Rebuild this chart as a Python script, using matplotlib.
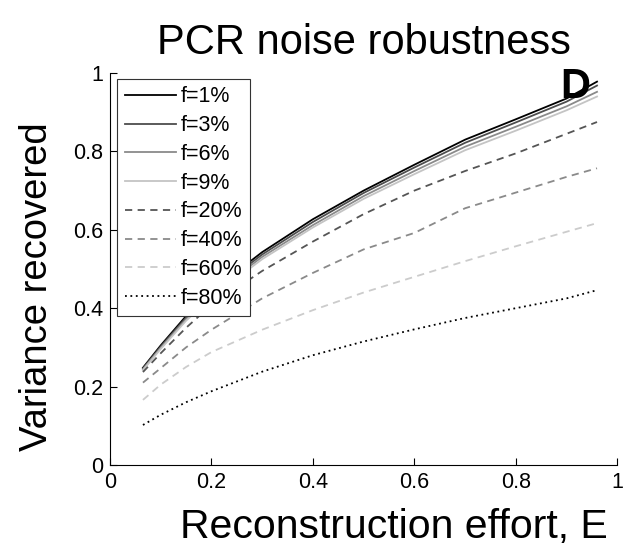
import matplotlib
matplotlib.use("Agg")
import matplotlib.pyplot as plt

E = [0.065, 0.1, 0.15, 0.2, 0.3, 0.4, 0.5, 0.6, 0.7, 0.8, 0.9, 0.96]

labels = ["f=1%", "f=3%", "f=6%", "f=9%", "f=20%", "f=40%", "f=60%", "f=80%"]

f1  = [0.248, 0.305, 0.380, 0.443, 0.543, 0.627, 0.700, 0.766, 0.830, 0.882, 0.935, 0.978]
f3  = [0.246, 0.302, 0.376, 0.438, 0.537, 0.620, 0.694, 0.759, 0.822, 0.874, 0.927, 0.968]
f6  = [0.244, 0.299, 0.372, 0.433, 0.531, 0.612, 0.686, 0.750, 0.812, 0.863, 0.915, 0.952]
f9  = [0.242, 0.296, 0.368, 0.428, 0.525, 0.606, 0.679, 0.742, 0.803, 0.853, 0.905, 0.940]
f20 = [0.237, 0.285, 0.350, 0.408, 0.495, 0.570, 0.640, 0.700, 0.750, 0.795, 0.845, 0.875]
f40 = [0.210, 0.247, 0.300, 0.345, 0.425, 0.490, 0.550, 0.592, 0.655, 0.695, 0.735, 0.757]
f60 = [0.166, 0.205, 0.250, 0.288, 0.345, 0.395, 0.440, 0.480, 0.520, 0.558, 0.595, 0.617]
f80 = [0.102, 0.128, 0.160, 0.188, 0.238, 0.280, 0.315, 0.346, 0.375, 0.400, 0.425, 0.446]

series = [f1, f3, f6, f9, f20, f40, f60, f80]
colors = ["#000000", "#4d4d4d", "#8a8a8a", "#c4c4c4", "#555555", "#8a8a8a", "#cccccc", "#000000"]
styles = ["-", "-", "-", "-", (0, (4, 3)), (0, (4, 3)), (0, (4, 3)), (0, (1, 2))]

plt.rcParams['font.family'] = ['Liberation Sans', 'DejaVu Sans']

fig = plt.figure(figsize=(6.31, 5.47), dpi=100)
ax = fig.add_axes([0.1743, 0.150, 0.804, 0.7165])

for y, c, ls, lab in zip(series, colors, styles, labels):
    ax.plot(E, y, color=c, linestyle=ls, linewidth=1.3, label=lab)

ax.set_xlim(0, 1)
ax.set_ylim(0, 1)
ax.set_xticks([0, 0.2, 0.4, 0.6, 0.8, 1])
ax.set_xticklabels(["0", "0.2", "0.4", "0.6", "0.8", "1"])
ax.set_yticks([0, 0.2, 0.4, 0.6, 0.8, 1])
ax.set_yticklabels(["0", "0.2", "0.4", "0.6", "0.8", "1"])
ax.tick_params(direction='in', length=5, labelsize=15.5, width=0.8, pad=5)
ax.spines['top'].set_visible(False)
ax.spines['right'].set_visible(False)

ax.set_title("PCR noise robustness", fontsize=30, pad=14)
ax.set_xlabel("Reconstruction effort, E", fontsize=29.5)
ax.xaxis.set_label_coords(0.56, -0.11)
ax.xaxis.label.set_va('top')
ax.set_ylabel("Variance recovered", fontsize=27.5)
ax.yaxis.set_label_coords(-0.108, 0.454)

leg = ax.legend(loc='upper left', bbox_to_anchor=(0.014, 0.985), fontsize=15.5,
                handlelength=2.4, handletextpad=0.2, labelspacing=0.36,
                borderpad=0.35, borderaxespad=0.0, fancybox=False, framealpha=1,
                edgecolor='#333333')
leg.get_frame().set_linewidth(0.8)

ax.text(0.947, 1.015, "D", transform=ax.transAxes, fontsize=30, fontweight='bold',
        ha='right', va='top')

fig.savefig("out.png", dpi=100)
